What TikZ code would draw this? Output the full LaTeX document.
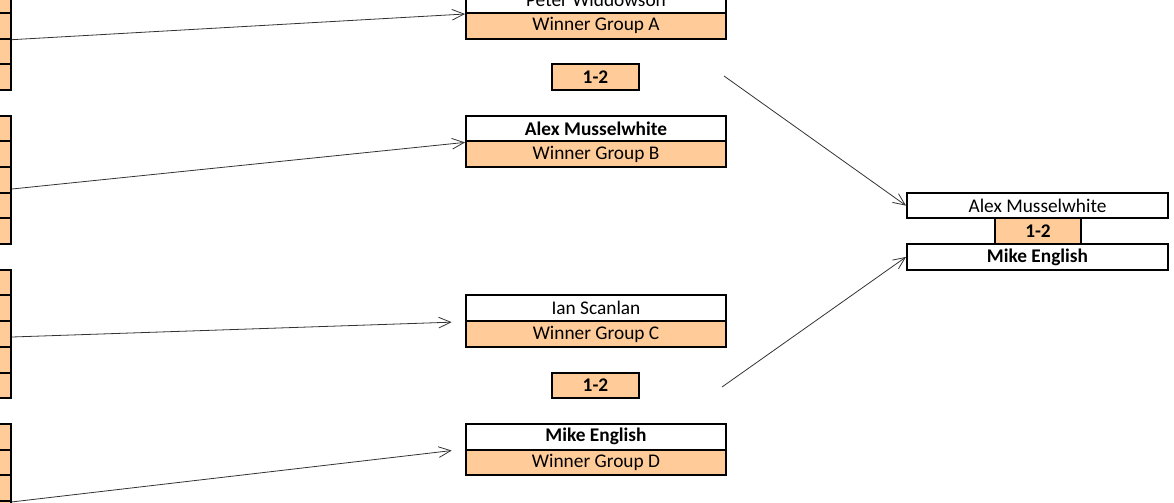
\documentclass[tikz,border=0pt]{standalone}
\usepackage{fontspec}
\setmainfont{Carlito}
\usetikzlibrary{arrows.meta}
\definecolor{sheetorange}{HTML}{FFCC99}
\tikzset{
  cellbox/.style={draw, line width=1.5pt, inner sep=0pt, minimum height=19.26pt,
    font=\fontsize{14.5}{17}\selectfont},
  namebox/.style={cellbox, fill=white, minimum width=195pt},
  groupbox/.style={cellbox, fill=sheetorange, minimum width=195pt},
  scorebox/.style={cellbox, fill=sheetorange, minimum width=65.25pt, font=\fontsize{14.5}{17}\selectfont\bfseries},
  seedcell/.style={draw, line width=1.5pt, fill=sheetorange, minimum width=39pt, minimum height=19.26pt, inner sep=0pt},
  wire/.style={draw=black!80, line width=0.6pt, -{Straight Barb[length=9pt,width=8pt]}}
}
\begin{document}
\begin{tikzpicture}[x=0.75pt, y=-0.75pt]
			%%%%% frame %%%%%
			\useasboundingbox (0,0) rectangle (1174,503);
			\clip (0,0) rectangle (1174,503);
			
			%%%%% group columns at the left %%%%%
			\foreach \r in {-2,-1,0,1,2, 4,5,6,7,8, 10,11,12,13,14, 16,17,18,19,20}
				\node[seedcell] (c\r) at (-15, {25.84+25.68*\r}) {};
			
			%%%%% semi finals %%%%%
			\node[namebox] (nameA) at (596, 0.16) {Peter Widdowson};
			\node[groupbox] (grpA) at (596, 25.84) {Winner Group A};
			\node[scorebox] (score1) at (595.5, 77.2) {1-2};
			\node[namebox] (nameB) at (596, 128.56) {\bfseries Alex Musselwhite};
			\node[groupbox] (grpB) at (596, 154.24) {Winner Group B};
			
			\node[namebox] (nameC) at (596, 308.32) {Ian Scanlan};
			\node[groupbox] (grpC) at (596, 334) {Winner Group C};
			\node[scorebox] (score2) at (595.5, 385.36) {1-2};
			\node[namebox] (nameD) at (596, 436.72) {\bfseries Mike English};
			\node[groupbox] (grpD) at (596, 462.4) {Winner Group D};
			
			%%%%% final %%%%%
			\node[namebox, minimum width=195.75pt] (finTop) at (1037.5, 205.6) {Alex Musselwhite};
			\node[scorebox, minimum width=64.5pt] (finScore) at (1038, 231.28) {1-2};
			\node[namebox, minimum width=195.75pt] (finBot) at (1037.5, 256.96) {\bfseries Mike English};
			
			%%%%% connectors %%%%%
			\coordinate (sB) at (12, 189);
			\coordinate (sC) at (12, 337);
			\coordinate (sF1) at (724, 76);
			\coordinate (sF2) at (722, 387);
			
			\draw[wire] (c0.south east) -- (nameA.south west);
			\draw[wire] (sB) -- (nameB.south west);
			\draw[wire] (sC) -- ([xshift=-10pt]nameC.south west);
			\draw[wire] (c18.south east) -- ([xshift=-10pt]nameD.south west);
			
			\draw[wire] (sF1) -- (finTop.west);
			\draw[wire] (sF2) -- (finBot.west);
			
		\end{tikzpicture}
\end{document}
